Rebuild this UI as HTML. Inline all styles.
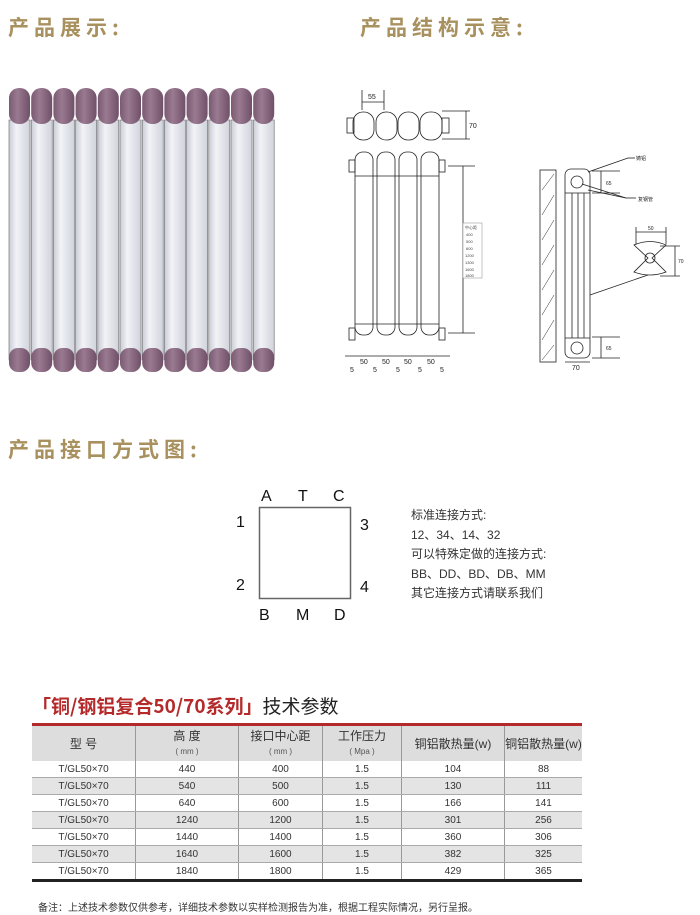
<!DOCTYPE html>
<html><head><meta charset="utf-8"><style>
body{margin:0;width:700px;height:915px;background:#fff;position:relative;overflow:hidden;font-family:"Liberation Sans","Noto Sans CJK SC",sans-serif}
.t{position:absolute;color:#a8915f;font-weight:bold;font-size:21px;letter-spacing:5px;font-family:"Noto Sans CJK SC",sans-serif}
.a{position:absolute}
table{border-collapse:collapse;position:absolute;left:32px;top:726px;width:550px;font-size:10px;color:#333;font-family:"Liberation Sans","Noto Sans CJK SC",sans-serif}
td{text-align:center;border-left:1px solid #999;height:16px;padding:0;border-bottom:1px solid #aaa}
td:first-child{border-left:none}
tr.g td{background:#e4e4e4}
th{background:#ddd;font-weight:normal;font-size:12px;border-left:1px solid #999;height:35px;padding:0;line-height:14px}
th:first-child{border-left:none}
th small{font-size:8px;color:#555}
</style></head><body>
<div class="t" style="left:8px;top:12px">产品展示:</div>
<div class="t" style="left:360px;top:12px">产品结构示意:</div>
<div class="t" style="left:8px;top:434px">产品接口方式图:</div>

<svg class="a" style="left:0;top:80px" width="300" height="300">
<defs><linearGradient id="w" x1="0" x2="1"><stop offset="0" stop-color="#c9ccd6"/><stop offset=".35" stop-color="#f2f3f7"/><stop offset="1" stop-color="#d0d3dc"/></linearGradient>
<linearGradient id="p" x1="0" x2="1"><stop offset="0" stop-color="#7a5a72"/><stop offset=".4" stop-color="#9a7a90"/><stop offset="1" stop-color="#6f5068"/></linearGradient>
<g id="tb"><rect x="0" y="40" width="21" height="240" fill="url(#w)" stroke="#666" stroke-width="0.6"/><rect x="0" y="8" width="21" height="36" rx="10" fill="url(#p)"/><rect x="0" y="268" width="21" height="24" rx="9" fill="url(#p)"/></g></defs>
<use href="#tb" x="9"/><use href="#tb" x="31.2"/><use href="#tb" x="53.4"/><use href="#tb" x="75.6"/><use href="#tb" x="97.8"/><use href="#tb" x="120"/><use href="#tb" x="142.2"/><use href="#tb" x="164.4"/><use href="#tb" x="186.6"/><use href="#tb" x="208.8"/><use href="#tb" x="231"/><use href="#tb" x="253.2"/>
</svg>

<svg class="a" style="left:330px;top:80px" width="370" height="300" font-size="7" font-family="Liberation Sans" stroke="#222" fill="none" stroke-width="0.8">
<g>
<rect x="17" y="38" width="7" height="15"/><rect x="112" y="38" width="7" height="15"/>
<rect x="23" y="32" width="21" height="28" rx="10"/><rect x="46" y="32" width="21" height="28" rx="10"/><rect x="68" y="32" width="21" height="28" rx="10"/><rect x="90" y="32" width="22" height="28" rx="10"/>
<line x1="32" y1="10" x2="32" y2="30"/><line x1="54" y1="10" x2="54" y2="30"/><line x1="32" y1="22" x2="54" y2="22"/>
<line x1="112" y1="31" x2="140" y2="31"/><line x1="112" y1="59" x2="140" y2="59"/><line x1="136" y1="31" x2="136" y2="59"/>
</g>
<text x="38" y="19" fill="#222" stroke="none">55</text><text x="139" y="48" fill="#222" stroke="none">70</text>
<g>
<rect x="25" y="72" width="18" height="183" rx="8"/><rect x="47" y="72" width="18" height="183" rx="8"/><rect x="69" y="72" width="18" height="183" rx="8"/><rect x="91" y="72" width="18" height="183" rx="8"/>
<line x1="25" y1="96" x2="109" y2="96"/><line x1="25" y1="244" x2="109" y2="244"/>
<rect x="19" y="80" width="6" height="12"/><rect x="109" y="80" width="6" height="12"/><rect x="19" y="248" width="6" height="12"/><rect x="109" y="248" width="6" height="12"/>
<line x1="118" y1="86" x2="145" y2="86"/><line x1="118" y1="253" x2="145" y2="253"/><line x1="133" y1="86" x2="133" y2="253"/>
<line x1="15" y1="276" x2="120" y2="276"/>
</g>
<g fill="#fff" stroke="#888" stroke-width="0.5"><rect x="133" y="143" width="19" height="55"/></g>
<g fill="#444" stroke="none" font-size="4"><text x="135" y="149">中心距</text><text x="136" y="156">400</text><text x="136" y="163">500</text><text x="136" y="170">600</text><text x="135" y="177">1200</text><text x="135" y="184">1300</text><text x="135" y="191">1600</text><text x="135" y="197">1800</text></g>
<g fill="#222" stroke="none" font-size="7"><text x="30" y="284">50</text><text x="52" y="284">50</text><text x="74" y="284">50</text><text x="97" y="284">50</text>
<text x="20" y="292">5</text><text x="43" y="292">5</text><text x="66" y="292">5</text><text x="88" y="292">5</text><text x="110" y="292">5</text></g>
<rect x="210" y="90" width="16" height="192"/>
<g stroke-width="0.5"><line x1="212" y1="110" x2="224" y2="94"/><line x1="212" y1="135" x2="224" y2="115"/><line x1="212" y1="160" x2="224" y2="140"/><line x1="212" y1="185" x2="224" y2="165"/><line x1="212" y1="210" x2="224" y2="190"/><line x1="212" y1="235" x2="224" y2="215"/><line x1="212" y1="260" x2="224" y2="240"/><line x1="212" y1="280" x2="224" y2="265"/></g>
<rect x="235" y="89" width="25" height="189" rx="6"/>
<line x1="235" y1="113" x2="260" y2="113"/><line x1="235" y1="258" x2="260" y2="258"/>
<line x1="242" y1="113" x2="242" y2="258"/><line x1="248" y1="113" x2="248" y2="258"/><line x1="254" y1="113" x2="254" y2="258"/>
<circle cx="247" cy="102" r="6"/><circle cx="247" cy="268" r="6"/>
<line x1="262" y1="91" x2="290" y2="91"/><line x1="262" y1="113" x2="290" y2="113"/><line x1="271" y1="91" x2="271" y2="113"/>
<line x1="262" y1="257" x2="290" y2="257"/><line x1="262" y1="278" x2="290" y2="278"/><line x1="271" y1="257" x2="271" y2="278"/>
<line x1="235" y1="282" x2="260" y2="282"/>
<line x1="258" y1="92" x2="298" y2="78"/><line x1="298" y1="78" x2="305" y2="78"/>
<line x1="252" y1="104" x2="296" y2="118"/><line x1="258" y1="110" x2="296" y2="118"/><line x1="296" y1="118" x2="306" y2="118"/>
<line x1="260" y1="215" x2="318" y2="195"/>
<line x1="306" y1="147" x2="306" y2="164"/><line x1="336" y1="147" x2="336" y2="164"/><line x1="306" y1="152" x2="336" y2="152"/>
<path d="M304 165 Q320 158 336 165 L322 178 L336 192 Q320 198 304 192 L318 178 Z"/><circle cx="320" cy="178" r="5"/>
<line x1="330" y1="166" x2="350" y2="166"/><line x1="330" y1="196" x2="350" y2="196"/><line x1="345" y1="166" x2="345" y2="196"/>
<g fill="#222" stroke="none" font-size="5"><text x="306" y="80">铸铝</text><text x="308" y="121">复钢管</text><text x="318" y="150">50</text><text x="276" y="105">65</text><text x="276" y="270">65</text><text x="348" y="183">70</text></g>
<text x="242" y="290" fill="#222" stroke="none" font-size="7">70</text>
</svg>

<svg class="a" style="left:230px;top:480px" width="160" height="145" font-size="16" font-family="Liberation Sans" fill="#111">
<rect x="29.5" y="27.5" width="91" height="91" fill="none" stroke="#666" stroke-width="1.5"/>
<text x="31" y="21">A</text><text x="68" y="21">T</text><text x="103" y="21">C</text>
<text x="6" y="47">1</text><text x="130" y="50">3</text><text x="6" y="110">2</text><text x="130" y="112">4</text>
<text x="29" y="140">B</text><text x="66" y="140">M</text><text x="104" y="140">D</text>
</svg>
<div class="a" style="left:411px;top:506px;font-size:12px;line-height:19.5px;color:#333">标准连接方式:<br>12、34、14、32<br>可以特殊定做的连接方式:<br>BB、DD、BD、DB、MM<br>其它连接方式请联系我们</div>

<div class="a" style="left:32px;top:692px;font-size:19px;font-weight:bold;color:#b42a2a;font-family:'Noto Sans CJK SC',sans-serif">「铜/钢铝复合50/70系列」<span style="color:#222;font-weight:normal">技术参数</span></div>
<div class="a" style="left:32px;top:723px;width:550px;height:3px;background:#b42a2a"></div>
<table>
<tr><th style="width:103px">型 号</th><th style="width:102px">高 度<br><small>( mm )</small></th><th style="width:83px">接口中心距<br><small>( mm )</small></th><th style="width:78px">工作压力<br><small>( Mpa )</small></th><th style="width:102px">铜铝散热量(w)</th><th>铜铝散热量(w)</th></tr>
<tr><td>T/GL50×70</td><td>440</td><td>400</td><td>1.5</td><td>104</td><td>88</td></tr>
<tr class="g"><td>T/GL50×70</td><td>540</td><td>500</td><td>1.5</td><td>130</td><td>111</td></tr>
<tr><td>T/GL50×70</td><td>640</td><td>600</td><td>1.5</td><td>166</td><td>141</td></tr>
<tr class="g"><td>T/GL50×70</td><td>1240</td><td>1200</td><td>1.5</td><td>301</td><td>256</td></tr>
<tr><td>T/GL50×70</td><td>1440</td><td>1400</td><td>1.5</td><td>360</td><td>306</td></tr>
<tr class="g"><td>T/GL50×70</td><td>1640</td><td>1600</td><td>1.5</td><td>382</td><td>325</td></tr>
<tr><td style="border-bottom:3px solid #222">T/GL50×70</td><td style="border-bottom:3px solid #222">1840</td><td style="border-bottom:3px solid #222">1800</td><td style="border-bottom:3px solid #222">1.5</td><td style="border-bottom:3px solid #222">429</td><td style="border-bottom:3px solid #222">365</td></tr>
</table>
<div class="a" style="left:38px;top:899px;font-size:10px;color:#333">备注：上述技术参数仅供参考，详细技术参数以实样检测报告为准，根据工程实际情况，另行呈报。</div>
</body></html>
